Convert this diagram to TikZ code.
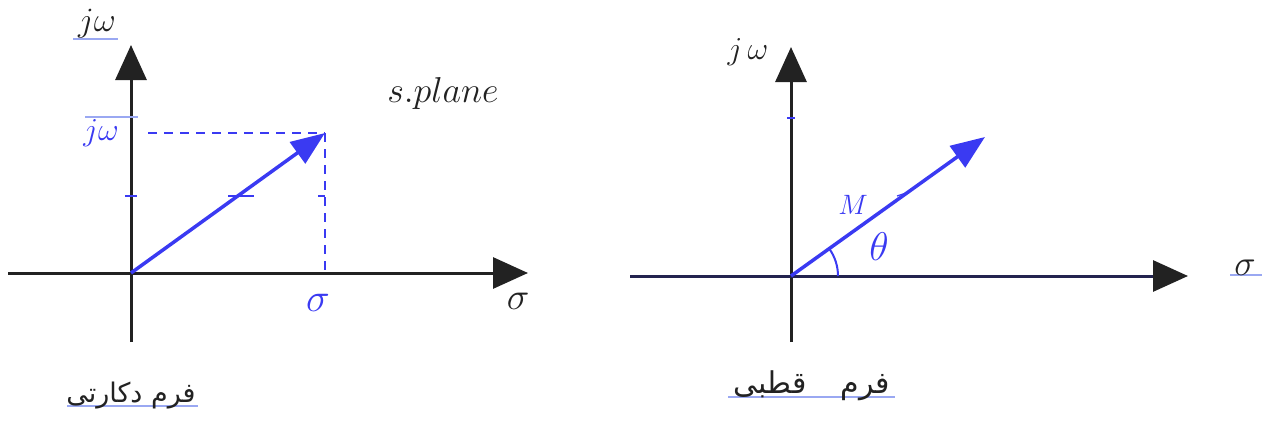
\RequirePackage{fix-cm}
\documentclass[tikz,border=0pt]{standalone}
\usepackage{fontspec}
\usetikzlibrary{arrows.meta}
\newfontfamily\arabicfont[Script=Arabic]{DejaVu Sans}
\TeXXeTstate=1
\definecolor{axisblack}{HTML}{222222}
\definecolor{navy}{HTML}{23234F}
\definecolor{vecblue}{HTML}{3A3AF2}
\definecolor{lightblue}{HTML}{9AA8F2}
\tikzset{
  axis/.style={line width=3pt, draw=axisblack, -{Triangle[length=35pt,width=31pt,color=axisblack]}},
  vecarrow/.style={line width=3.5pt, draw=vecblue, -{Triangle[length=34pt,width=26pt]}},
  guide/.style={draw=vecblue, line width=2pt, dash pattern=on 9pt off 7pt},
  tickmark/.style={draw=vecblue, line width=1.2pt},
  underline/.style={draw=lightblue, line width=1.5pt},
  blacklabel/.style={text=axisblack, inner sep=0pt},
  bluelabel/.style={text=vecblue, inner sep=0pt},
}
\begin{document}
\begin{tikzpicture}[x=1pt,y=-1pt]
\useasboundingbox (0,0) rectangle (1271,428);
% ---------- left diagram ----------
\coordinate (O1) at (131,273);
\coordinate (V1b) at (131,342);
\coordinate (V1t) at (131,45);
\coordinate (H1l) at (8,273);
\coordinate (H1r) at (528,273);
\coordinate (P1) at (325,133);
\coordinate (D1a) at (148,133);
\coordinate (D1b) at (325,273);
\draw[axis] (V1b) -- (V1t);
\draw[axis] (H1l) -- (H1r);
\draw[guide] (D1a) -- (P1);
\draw[guide] (P1) -- (D1b);
\draw[vecarrow] (O1) -- (P1);
\coordinate (t1a) at (125,196); \coordinate (t1b) at (137,196);
\coordinate (t2a) at (228,196); \coordinate (t2b) at (254,196);
\coordinate (t3a) at (318,196); \coordinate (t3b) at (325,196);
\draw[tickmark] (t1a) -- (t1b);
\draw[tickmark] (t2a) -- (t2b);
\draw[tickmark] (t3a) -- (t3b);
\coordinate (u1a) at (73,39); \coordinate (u1b) at (118,39);
\coordinate (u2a) at (85,117); \coordinate (u2b) at (138,117);
\coordinate (u3a) at (67,406); \coordinate (u3b) at (198,406);
\draw[underline] (u1a) -- (u1b);
\draw[underline] (u2a) -- (u2b);
\draw[underline] (u3a) -- (u3b);
\node[blacklabel, font=\fontsize{34}{38}\selectfont] (jw1) at (97,24) {$j\omega$};
\node[bluelabel, font=\fontsize{32}{36}\selectfont] (jw2) at (101,133) {$j\omega$};
\node[bluelabel, font=\fontsize{40}{44}\selectfont] (s1) at (318,303) {$\sigma$};
\node[blacklabel, font=\fontsize{38}{42}\selectfont] (s2) at (518,301) {$\sigma$};
\node[blacklabel, font=\fontsize{36}{40}\selectfont] (sp) at (443,93) {$s.plane$};
\node[blacklabel, font=\arabicfont\fontsize{27}{31}\selectfont] (pl) at (131,396) {\beginR فرم دکارتی\endR};
% ---------- right diagram ----------
\coordinate (O2) at (791,276);
\coordinate (V2b) at (791,342);
\coordinate (V2t) at (791,47);
\coordinate (H2l) at (630,276);
\coordinate (H2r) at (1188,276);
\coordinate (P2) at (985,137);
\draw[axis] (V2b) -- (V2t);
\draw[axis, draw=navy] (H2l) -- (H2r);
\draw[vecarrow] (O2) -- (P2);
\draw[draw=vecblue, line width=2pt] (O2) ++(47pt,0) arc[start angle=0, end angle=35.6, radius=47pt];
\coordinate (t4a) at (787,118); \coordinate (t4b) at (795,118);
\coordinate (t5a) at (897,196); \coordinate (t5b) at (909,192);
\draw[tickmark] (t4a) -- (t4b);
\draw[tickmark] (t5a) -- (t5b);
\coordinate (u4a) at (1230,275); \coordinate (u4b) at (1262,275);
\coordinate (u5a) at (728,397); \coordinate (u5b) at (895,397);
\draw[underline] (u4a) -- (u4b);
\draw[underline] (u5a) -- (u5b);
\node[blacklabel, font=\fontsize{32}{36}\selectfont] (jw3) at (748,52) {$j\,\omega$};
\node[blacklabel, font=\fontsize{36}{40}\selectfont] (s3) at (1245,268) {$\sigma$};
\node[bluelabel, font=\fontsize{28}{32}\selectfont] (M) at (853,205) {$M$};
\node[bluelabel, font=\fontsize{40}{44}\selectfont] (th) at (879,247) {$\theta$};
\node[blacklabel, font=\arabicfont\fontsize{30}{34}\selectfont] (pr) at (812,386) {\beginR فرم\hspace{34pt}قطبی\endR};
\end{tikzpicture}
\end{document}
